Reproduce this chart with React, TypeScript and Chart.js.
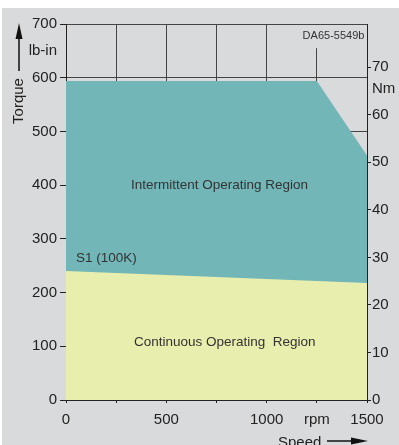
import React, { useEffect, useRef } from "react";
import { Chart, registerables } from "chart.js";

Chart.register(...registerables);

// ---- data ----
const intermittentSpeed = [0, 1250, 1500];
const intermittentTorque = [594, 594, 455];
const continuousSpeed = [0, 1500];
const continuousTorque = [240, 218];
const leftTicks = [0, 100, 200, 300, 400, 500, 600, 700];
const rightTicksNm = [0, 10, 20, 30, 40, 50, 60, 70];
const speedTickLabels: Record<number, string> = { 0: "0", 250: "", 500: "500", 750: "", 1000: "1000", 1250: "rpm", 1500: "1500" };
const LBIN_PER_NM = 8.85;

const BG = "#d9dadc";
const TEAL = "#72b6b8";
const YELLOW = "#e8eeae";
const TXT = "#222";

const overlayPlugin = {
  id: "overlay",
  beforeDraw(chart: any) {
    const { ctx, width, height } = chart;
    ctx.save();
    ctx.fillStyle = "#ffffff";
    ctx.fillRect(0, 0, width, height);
    ctx.fillStyle = BG;
    ctx.fillRect(2, 8, width - 2, height - 8);
    ctx.restore();
  },
  afterDatasetsDraw(chart: any) {
    const { ctx } = chart;
    const x = chart.scales.x;
    const y = chart.scales.y;
    const y2 = chart.scales.y2;
    ctx.save();
    // code label box
    ctx.fillStyle = BG;
    ctx.fillRect(x.getPixelForValue(1160), y.getPixelForValue(698), x.getPixelForValue(1495) - x.getPixelForValue(1160), y.getPixelForValue(655) - y.getPixelForValue(698));
    ctx.fillStyle = "#333";
    ctx.font = "11px 'Liberation Sans', Arial, sans-serif";
    ctx.textAlign = "right";
    ctx.textBaseline = "middle";
    ctx.fillText("DA65-5549b", x.getPixelForValue(1487), y.getPixelForValue(678));

    ctx.font = "13.5px 'Liberation Sans', Arial, sans-serif";
    ctx.fillStyle = "#333";
    ctx.textAlign = "center";
    ctx.fillText("Intermittent Operating Region", x.getPixelForValue(765), y.getPixelForValue(400));
    ctx.fillText("Continuous Operating  Region", x.getPixelForValue(791), y.getPixelForValue(107));
    ctx.textAlign = "left";
    ctx.fillText("S1 (100K)", x.getPixelForValue(50), y.getPixelForValue(264));

    // unit labels
    ctx.font = "15px 'Liberation Sans', Arial, sans-serif";
    ctx.fillStyle = TXT;
    ctx.textAlign = "right";
    ctx.fillText("lb-in", 57, y.getPixelForValue(650));
    ctx.textAlign = "left";
    ctx.fillText("Nm", 372, y2.getPixelForValue(65.4));

    // Torque title + arrow
    ctx.save();
    ctx.translate(19, 101);
    ctx.rotate(-Math.PI / 2);
    ctx.textAlign = "center";
    ctx.fillText("Torque", 0, 0);
    ctx.restore();
    ctx.strokeStyle = "#111";
    ctx.lineWidth = 1.5;
    ctx.beginPath();
    ctx.moveTo(19, 71);
    ctx.lineTo(19, 36);
    ctx.stroke();
    ctx.fillStyle = "#111";
    ctx.beginPath();
    ctx.moveTo(19, 23);
    ctx.lineTo(22.5, 39);
    ctx.lineTo(15.5, 39);
    ctx.closePath();
    ctx.fill();

    // Speed title + arrow
    ctx.fillStyle = TXT;
    ctx.textAlign = "left";
    ctx.fillText("Speed", 278, 443);
    ctx.beginPath();
    ctx.moveTo(327, 441);
    ctx.lineTo(354, 441);
    ctx.stroke();
    ctx.fillStyle = "#111";
    ctx.beginPath();
    ctx.moveTo(368, 441);
    ctx.lineTo(351, 437.5);
    ctx.lineTo(351, 444.5);
    ctx.closePath();
    ctx.fill();
    ctx.restore();
  },
};

export default function App() {
  const ref = useRef<HTMLCanvasElement>(null);
  useEffect(() => {
    if (!ref.current) return;
    const font = { family: "'Liberation Sans', Arial, sans-serif", size: 15 };
    const chart = new Chart(ref.current, {
      type: "line",
      data: {
        datasets: [
          {
            label: "Continuous",
            data: continuousSpeed.map((s, i) => ({ x: s, y: continuousTorque[i] })),
            backgroundColor: YELLOW,
            borderWidth: 0,
            pointRadius: 0,
            fill: "origin",
          },
          {
            label: "Intermittent",
            data: intermittentSpeed.map((s, i) => ({ x: s, y: intermittentTorque[i] })),
            backgroundColor: TEAL,
            borderWidth: 0,
            pointRadius: 0,
            fill: "origin",
          },
        ],
      },
      options: {
        animation: false,
        responsive: false,
        events: [],
        layout: { padding: { left: 0, right: 0, top: 24, bottom: 0 } },
        plugins: { legend: { display: false }, tooltip: { enabled: false } },
        scales: {
          x: {
            type: "linear",
            min: 0,
            max: 1500,
            afterBuildTicks: (s: any) => {
              s.ticks = Object.keys(speedTickLabels).map((k) => ({ value: Number(k) }));
            },
            ticks: {
              callback: (v: any) => speedTickLabels[v] ?? "",
              color: TXT,
              font,
              padding: 8,
              maxRotation: 0,
              autoSkip: false,
            },
            grid: { color: "#444", lineWidth: 1, tickLength: 3, tickColor: "#222" },
            border: { color: "#222", width: 1 },
            afterFit: (s: any) => {
              s.height = 45;
            },
          },
          y: {
            type: "linear",
            position: "left",
            min: 0,
            max: 700,
            afterBuildTicks: (s: any) => {
              s.ticks = leftTicks.map((v) => ({ value: v }));
            },
            ticks: { color: TXT, font, padding: 3 },
            grid: { color: "#444", lineWidth: 1, tickLength: 6, tickColor: "#222" },
            border: { color: "#222", width: 1 },
            afterFit: (s: any) => {
              s.width = 66;
            },
          },
          y2: {
            type: "linear",
            position: "right",
            min: 0,
            max: 700 / LBIN_PER_NM,
            afterBuildTicks: (s: any) => {
              s.ticks = rightTicksNm.map((v) => ({ value: v }));
            },
            ticks: { color: TXT, font, padding: 1 },
            grid: { drawOnChartArea: false, tickLength: 4, tickColor: "#222" },
            border: { color: "#222", width: 1 },
            afterFit: (s: any) => {
              s.width = 32;
            },
          },
        },
      },
      plugins: [overlayPlugin],
    });
    return () => chart.destroy();
  }, []);
  return (
    <div style={{ position: "absolute", left: 0, top: 0, width: 399, height: 445 }}>
      <canvas ref={ref} width={399} height={445} style={{ display: "block" }} />
    </div>
  );
}
